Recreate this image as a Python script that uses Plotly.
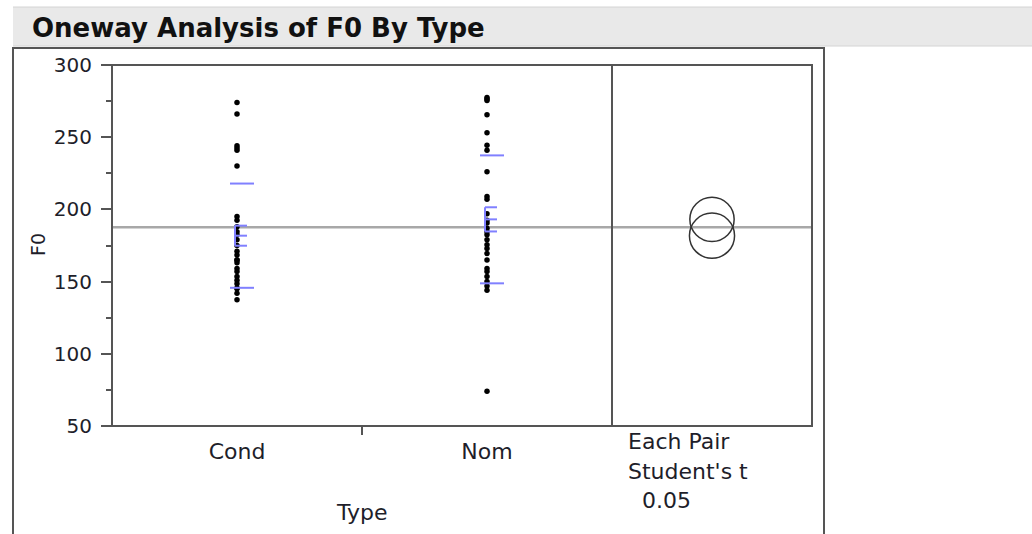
import numpy as np
import plotly.graph_objects as go

# F0 measurements for each Type group
cond_f0 = [274, 266, 244, 242.5, 241, 230, 195, 192.5, 188, 184.5, 182.5, 179,
           175, 171, 168.5, 165, 165, 163, 159, 157, 153.5, 151, 148.5,
           145.5, 145, 142, 137.5]
nom_f0 = [277.5, 276.5, 275.5, 265.5, 253, 244.5, 241, 226, 209, 207, 197,
          192.5, 190.5, 187, 184.5, 182.5, 179, 175.5, 173, 169.5, 165,
          159, 157, 153.5, 150, 147, 144, 74]
categories = ["Cond", "Nom"]
# group summary statistics (Means and Std Deviations report)
group_mean = [181.8, 193.1]
group_sd = [36.1, 44.3]
y_ticks = [50, 100, 150, 200, 250, 300]
alpha_label = ["Each Pair", "Student's t", "0.05"]

groups = [np.array(cond_f0), np.array(nom_f0)]
cat_pos = [0.5, 1.5]

W, H = 1032, 534
Y_MIN, Y_MAX = 50, 300
PLOT_TOP, PLOT_BOTTOM = 65, 426
LEFT_X0, LEFT_X1, RIGHT_X1 = 112, 612, 812
PX_PER_UNIT = (PLOT_BOTTOM - PLOT_TOP) / (Y_MAX - Y_MIN)


def px(x):
    return x / W


def py(y):
    return 1 - y / H


ns = np.array([len(g) for g in groups])
means = np.array(group_mean)
sds = np.array(group_sd)
ses = sds / np.sqrt(ns)
grand_mean = (means * ns).sum() / ns.sum()
df_err = ns.sum() - len(groups)
rmse = np.sqrt(((ns - 1) * sds ** 2).sum() / df_err)
t_crit = 2.006  # Student's t, 0.975 quantile, df = 53
radii = t_crit * rmse / np.sqrt(ns)

fig = go.Figure()
for pos, g in zip(cat_pos, groups):
    fig.add_trace(go.Scatter(
        x=[pos] * len(g), y=g, mode="markers",
        marker=dict(size=5.5, color="black"),
        showlegend=False, hoverinfo="y"))

frame = "#555555"
blue = "#8080ff"
shapes = []
# header band
shapes.append(dict(type="rect", xref="paper", yref="paper",
                   x0=px(13), x1=1, y0=py(46), y1=py(7),
                   fillcolor="#e9e9e9", line=dict(width=0), layer="below"))
for yy in (7, 46):
    shapes.append(dict(type="line", xref="paper", yref="paper",
                       x0=px(13), x1=1, y0=py(yy), y1=py(yy),
                       line=dict(color="#d4d4d4", width=1)))
# outer report frame
shapes.append(dict(type="path", xref="paper", yref="paper",
                   path=f"M {px(13)},{py(534)} L {px(13)},{py(48)} "
                        f"L {px(824)},{py(48)} L {px(824)},{py(534)}",
                   line=dict(color=frame, width=2)))
# plot frames
shapes.append(dict(type="rect", xref="paper", yref="paper",
                   x0=px(LEFT_X0), x1=px(RIGHT_X1), y0=py(PLOT_BOTTOM), y1=py(PLOT_TOP),
                   line=dict(color=frame, width=2)))
shapes.append(dict(type="line", xref="paper", yref="paper",
                   x0=px(LEFT_X1), x1=px(LEFT_X1), y0=py(PLOT_BOTTOM), y1=py(PLOT_TOP),
                   line=dict(color=frame, width=2)))
# grand mean line across both panels
shapes.append(dict(type="line", xref="paper", yref="y",
                   x0=px(LEFT_X0), x1=px(RIGHT_X1), y0=grand_mean, y1=grand_mean,
                   line=dict(color="#a8a8a8", width=2.5), layer="below"))
# std dev lines and mean error bars
for pos, m, s, se in zip(cat_pos, means, sds, ses):
    for v in (m - s, m + s):
        shapes.append(dict(type="line", xref="x", yref="y", xsizemode="pixel",
                           xanchor=pos, x0=-7, x1=17, y0=v, y1=v,
                           line=dict(color=blue, width=2)))
    shapes.append(dict(type="line", xref="x", yref="y", xsizemode="pixel",
                       xanchor=pos, x0=-2, x1=-2, y0=m - se, y1=m + se,
                       line=dict(color=blue, width=2)))
    for v in (m - se, m, m + se):
        shapes.append(dict(type="line", xref="x", yref="y", xsizemode="pixel",
                           xanchor=pos, x0=-2, x1=10, y0=v, y1=v,
                           line=dict(color=blue, width=2)))
# comparison circles
for m, r in zip(means, radii):
    rp = r * PX_PER_UNIT
    shapes.append(dict(type="circle", xref="x2", yref="y", xsizemode="pixel",
                       xanchor=0.5, x0=-rp, x1=rp, y0=m - r, y1=m + r,
                       line=dict(color="#333333", width=1.5)))

font = "DejaVu Sans"
txt = "#1e1e2a"
annotations = [
    dict(text="<b>Oneway Analysis of F0 By Type</b>", x=px(30), y=py(28),
         xref="paper", yref="paper", xanchor="left", yanchor="middle",
         showarrow=False, font=dict(family=font, size=26, color="#111")),
    dict(text="F0", x=px(38), y=py(245), xref="paper", yref="paper",
         xanchor="center", yanchor="middle",
         textangle=-90, showarrow=False, font=dict(family=font, size=19, color=txt)),
    dict(text="Type", x=px(362), y=py(512), xref="paper", yref="paper",
         xanchor="center", yanchor="middle",
         showarrow=False, font=dict(family=font, size=22, color=txt)),
]
label_y = [441, 471, 500]
label_x = [626, 626, 640]
for t, xx, yy in zip(alpha_label, label_x, label_y):
    annotations.append(dict(text=t, x=px(xx), y=py(yy), xref="paper", yref="paper",
                            xanchor="left", yanchor="middle", showarrow=False,
                            font=dict(family=font, size=22, color=txt)))

fig.update_layout(
    width=W, height=H, margin=dict(l=0, r=0, t=0, b=0),
    paper_bgcolor="white", plot_bgcolor="rgba(0,0,0,0)",
    shapes=shapes, annotations=annotations,
    xaxis=dict(domain=[px(LEFT_X0), px(LEFT_X1)], range=[0, 2], automargin=False,
               showgrid=False, zeroline=False, showline=False,
               tickvals=cat_pos, ticktext=categories, ticks="", ticklabelstandoff=10,
               tickfont=dict(family=font, size=22, color=txt),
               minor=dict(tickvals=[1], ticks="outside", ticklen=8,
                          tickwidth=2, tickcolor=frame)),
    xaxis2=dict(domain=[px(LEFT_X1), px(RIGHT_X1)], range=[0, 1],
                anchor="y", visible=False, automargin=False),
    yaxis=dict(domain=[py(PLOT_BOTTOM), py(PLOT_TOP)], range=[Y_MIN, Y_MAX],
               automargin=False,
               showgrid=False, zeroline=False, showline=False,
               tickvals=y_ticks, ticks="outside", ticklen=10, tickwidth=2,
               tickcolor=frame, ticklabelstandoff=5,
               tickfont=dict(family=font, size=20, color=txt),
               minor=dict(dtick=25, tick0=50, ticks="outside", ticklen=5,
                          tickwidth=2, tickcolor=frame)),
)

fig.write_html("out.html")
